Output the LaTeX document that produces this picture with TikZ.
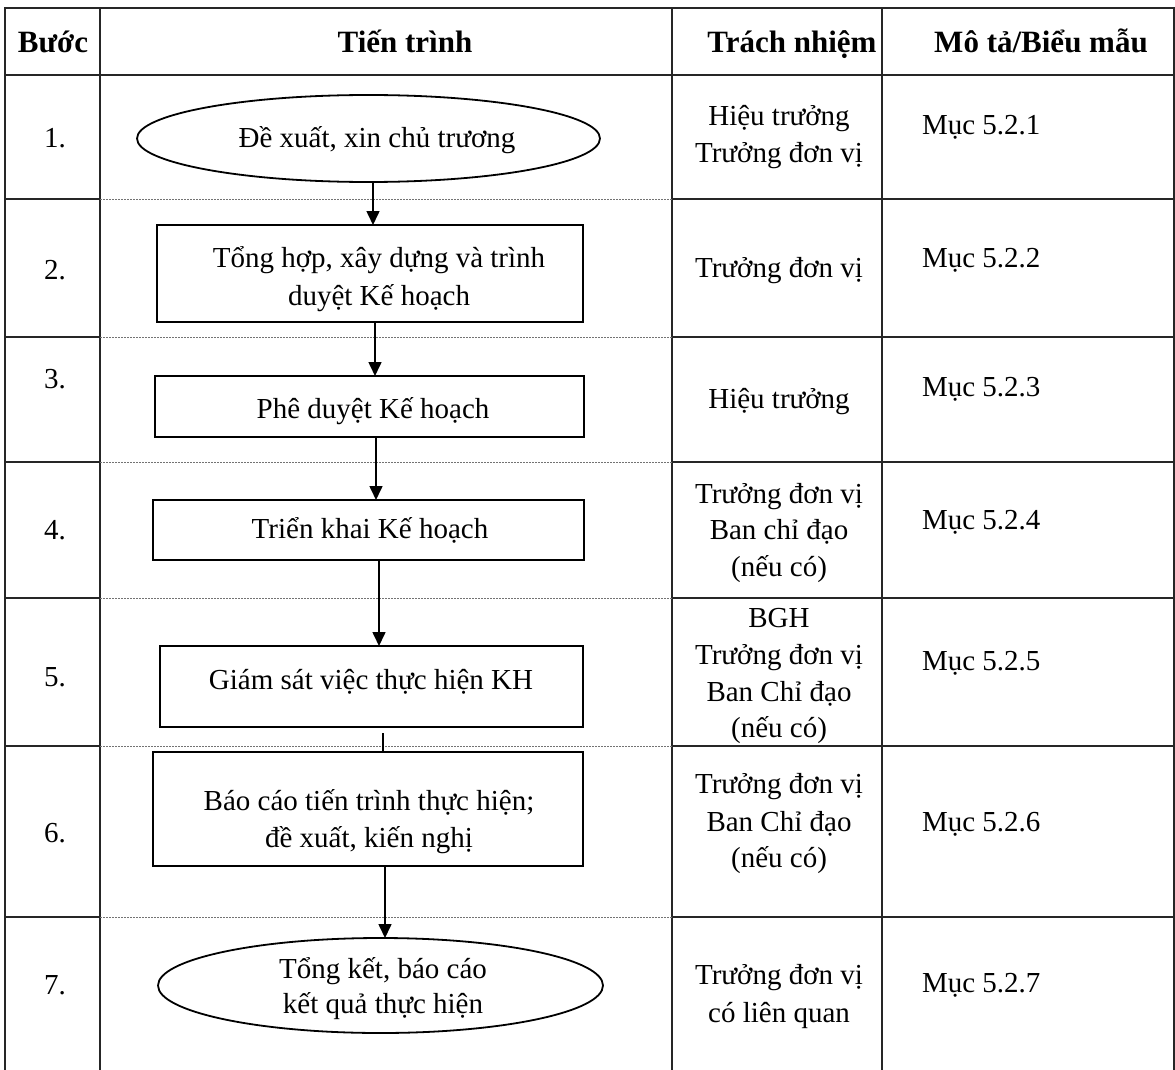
\documentclass[tikz,border=0pt]{standalone}
\usepackage{fontspec}
\setmainfont{Liberation Serif}
\usetikzlibrary{shapes.geometric,arrows.meta}
\begin{document}
\begin{tikzpicture}[x=1pt,y=-1pt,
  every node/.style={inner sep=0pt,outer sep=0pt},
  body/.style={font=\fontsize{29}{37}\selectfont,align=center},
  txt/.style={font=\fontsize{29}{37}\selectfont,anchor=base},
  txtl/.style={font=\fontsize{29}{37}\selectfont,anchor=base west},
  head/.style={font=\fontsize{31}{36}\selectfont\bfseries,anchor=base},
  tline/.style={line width=1.3pt,black!85},
  dline/.style={line width=0.8pt,black!55,dash pattern=on 2pt off 1pt},
  procbox/.style={draw,line width=1.8pt,rectangle,body},
  termell/.style={draw,line width=1.8pt,ellipse,body},
  arr/.style={line width=1.6pt,-{Triangle[width=13pt,length=14pt]}},
  plainln/.style={line width=1.6pt}]
\useasboundingbox (0,0) rectangle (1175,1070);
\fill[white] (0,0) rectangle (1175,1070);
% table frame
\draw[tline] (5,1070) -- (5,8) -- (1174,8) -- (1174,1070);
\draw[tline] (100,8) -- (100,1070);
\draw[tline] (672,8) -- (672,1070);
\draw[tline] (882,8) -- (882,1070);
\draw[tline] (5,75) -- (1174,75);
\foreach \yy in {199,337,462,598,746,917}{
  \draw[tline] (5,\yy) -- (100,\yy);
  \draw[dline] (100,\yy) -- (672,\yy);
  \draw[tline] (672,\yy) -- (1174,\yy);
}
% headers
\node[head] (h1) at (53,53) {Bước};
\node[head] (h2) at (405,53) {Tiến trình};
\node[head] (h3) at (792,53) {Trách nhiệm};
\node[head] (h4) at (1041,53) {Mô tả/Biểu mẫu};
% step numbers
\node[txt] (n1) at (55,148) {1.};
\node[txt] (n2) at (55,279) {2.};
\node[txt] (n3) at (55,388) {3.};
\node[txt] (n4) at (55,539) {4.};
\node[txt] (n5) at (55,686) {5.};
\node[txt] (n6) at (55,842) {6.};
\node[txt] (n7) at (55,994) {7.};
% process shapes
\node[termell,minimum width=463pt,minimum height=87pt] (e1) at (368.5,138.5) {};
\node[procbox,minimum width=426pt,minimum height=97pt] (b2) at (370,273.5) {};
\node[procbox,minimum width=429pt,minimum height=61pt] (b3) at (369.5,406.5) {};
\node[procbox,minimum width=431pt,minimum height=60pt] (b4) at (368.5,530) {};
\node[procbox,minimum width=423pt,minimum height=81pt] (b5) at (371.5,686.5) {};
\node[procbox,minimum width=430pt,minimum height=114pt] (b6) at (368,809) {};
\node[termell,minimum width=445pt,minimum height=95pt] (e7) at (380.5,985.5) {};
% process texts
\node[txt] (t1) at (377,147) {Đề xuất, xin chủ trương};
\node[txt] (t2a) at (379,267) {Tổng hợp, xây dựng và trình};
\node[txt] (t2b) at (379,305) {duyệt Kế hoạch};
\node[txt] (t3) at (373,418) {Phê duyệt Kế hoạch};
\node[txt] (t4) at (370,538) {Triển khai Kế hoạch};
\node[txt] (t5) at (371,689) {Giám sát việc thực hiện KH};
\node[txt] (t6a) at (369,810) {Báo cáo tiến trình thực hiện;};
\node[txt] (t6b) at (369,847) {đề xuất, kiến nghị};
\node[txt] (t7a) at (383,978) {Tổng kết, báo cáo};
\node[txt] (t7b) at (383,1013) {kết quả thực hiện};
% connectors
\draw[arr] ([xshift=4.5pt]e1.south) -- ([xshift=3pt]b2.north);
\draw[arr] ([xshift=5pt]b2.south) -- ([xshift=5.5pt]b3.north);
\draw[arr] ([xshift=6.5pt]b3.south) -- ([xshift=7.5pt]b4.north);
\draw[arr] ([xshift=10.5pt]b4.south) -- ([xshift=7.5pt]b5.north);
\draw[plainln] ([xshift=11.5pt,yshift=-6pt]b5.south) -- ([xshift=15pt]b6.north);
\draw[arr] ([xshift=17pt]b6.south) -- ([xshift=4.5pt]e7.north);
% responsibility
\node[txt] (r1a) at (779,125) {Hiệu trưởng};
\node[txt] (r1b) at (779,162) {Trưởng đơn vị};
\node[txt] (r2) at (779,277) {Trưởng đơn vị};
\node[txt] (r3) at (779,408) {Hiệu trưởng};
\node[txt] (r4a) at (779,503) {Trưởng đơn vị};
\node[txt] (r4b) at (779,539) {Ban chỉ đạo};
\node[txt] (r4c) at (779,576) {(nếu có)};
\node[txt] (r5a) at (779,627) {BGH};
\node[txt] (r5b) at (779,664) {Trưởng đơn vị};
\node[txt] (r5c) at (779,701) {Ban Chỉ đạo};
\node[txt] (r5d) at (779,737) {(nếu có)};
\node[txt] (r6a) at (779,793) {Trưởng đơn vị};
\node[txt] (r6b) at (779,831) {Ban Chỉ đạo};
\node[txt] (r6c) at (779,867) {(nếu có)};
\node[txt] (r7a) at (779,984) {Trưởng đơn vị};
\node[txt] (r7b) at (779,1022) {có liên quan};
% descriptions
\node[txtl] (m1) at (922,135) {Mục 5.2.1};
\node[txtl] (m2) at (922,267) {Mục 5.2.2};
\node[txtl] (m3) at (922,396) {Mục 5.2.3};
\node[txtl] (m4) at (922,529) {Mục 5.2.4};
\node[txtl] (m5) at (922,670) {Mục 5.2.5};
\node[txtl] (m6) at (922,831) {Mục 5.2.6};
\node[txtl] (m7) at (922,992) {Mục 5.2.7};
\end{tikzpicture}
\end{document}
